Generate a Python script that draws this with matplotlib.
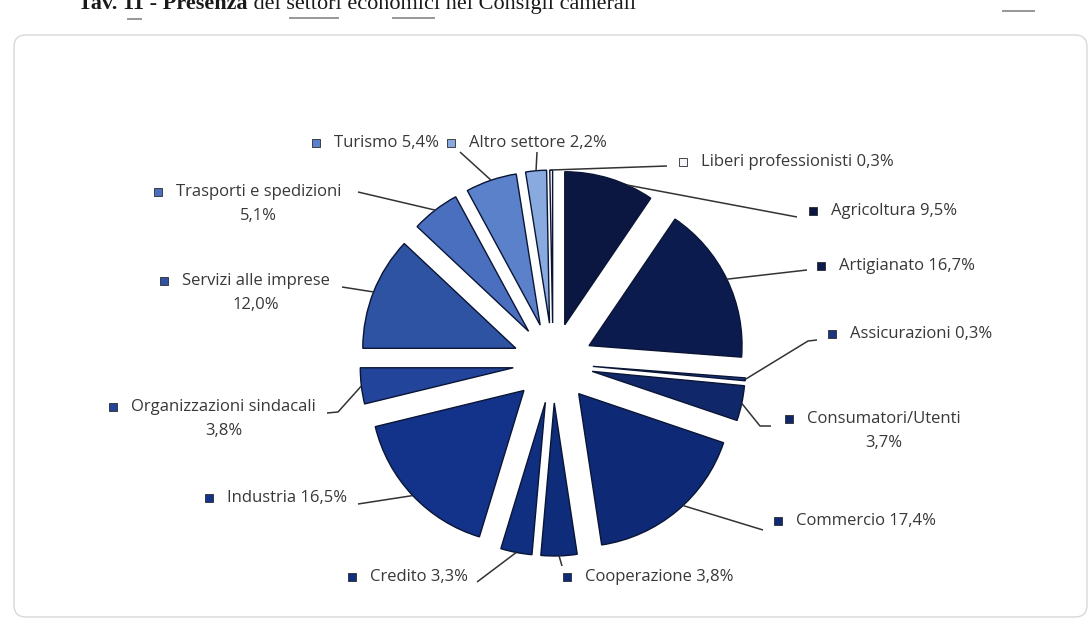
import matplotlib
matplotlib.use("Agg")
import matplotlib.pyplot as plt
from matplotlib.patches import FancyBboxPatch, Rectangle
import numpy as np

# ---- data -------------------------------------------------------------
sectors = ["Agricoltura", "Artigianato", "Assicurazioni", "Consumatori/Utenti",
           "Commercio", "Cooperazione", "Credito", "Industria",
           "Organizzazioni sindacali", "Servizi alle imprese",
           "Trasporti e spedizioni", "Turismo", "Altro settore",
           "Liberi professionisti"]
shares = [9.5, 16.7, 0.3, 3.7, 17.4, 3.8, 3.3, 16.5, 3.8, 12.0, 5.1, 5.4, 2.2, 0.3]

colors = ["#0b1741", "#0c1b4d", "#1b3580", "#10276a", "#0e2a77", "#0f2c7b",
          "#112f81", "#13338a", "#22449a", "#2e53a3", "#4a6fbf", "#5b81ca",
          "#88aade", "#f4f6fb"]

title_bold = "Tav. 11 - Presenza"
title_rest = " dei settori economici nei Consigli camerali"

# ---- layout (pixel coordinates, y measured from the top) ---------------
W, H = 1090, 624
CENTER = (553, 363)
RADIUS = 153
EXPLODE = 40

# legend square centre, leader start, optional elbow, anchor angle override
label_layout = {
    "Agricoltura":              dict(sq=(813, 211), start=(797, 217), elbow=None, ang=66),
    "Artigianato":              dict(sq=(821, 266), start=(807, 270), elbow=None, ang=None),
    "Assicurazioni":            dict(sq=(832, 334), start=(817, 340), elbow=(808, 341), ang=None),
    "Consumatori/Utenti":       dict(sq=(789, 419), start=(771, 426), elbow=(760, 426), ang=None),
    "Commercio":                dict(sq=(778, 521), start=(763, 530), elbow=None, ang=-47),
    "Cooperazione":             dict(sq=(567, 577), start=(562, 566), elbow=None, ang=None),
    "Credito":                  dict(sq=(352, 577), start=(477, 582), elbow=None, ang=None),
    "Industria":                dict(sq=(209, 498), start=(358, 504), elbow=None, ang=None),
    "Organizzazioni sindacali": dict(sq=(113, 407), start=(327, 413), elbow=(338, 412), ang=None),
    "Servizi alle imprese":     dict(sq=(164, 281), start=(342, 287), elbow=None, ang=None),
    "Trasporti e spedizioni":   dict(sq=(158, 192), start=(358, 192), elbow=None, ang=None),
    "Turismo":                  dict(sq=(316, 143), start=(460, 152), elbow=None, ang=None),
    "Altro settore":            dict(sq=(451, 143), start=(537, 152), elbow=None, ang=None),
    "Liberi professionisti":    dict(sq=(683, 162), start=(667, 166), elbow=None, ang=None),
}
two_line = {"Consumatori/Utenti", "Organizzazioni sindacali",
            "Servizi alle imprese", "Trasporti e spedizioni"}
TEXT_GAP = 18      # from square centre to the start of the text
LINE_STEP = 24     # vertical distance of the second label line


def Y(py):
    return H - py


def fmt(v):
    return f"{v:.1f}%".replace(".", ",")


fig = plt.figure(figsize=(W / 100, H / 100), dpi=100)
fig.patch.set_facecolor("white")
ax = fig.add_axes([0, 0, 1, 1])

wedges, _ = ax.pie(shares, startangle=90, counterclock=False,
                   explode=[EXPLODE] * len(shares), radius=RADIUS,
                   center=(CENTER[0], Y(CENTER[1])), colors=colors,
                   wedgeprops=dict(edgecolor="#0a1535", linewidth=1.0))
ax.set_xlim(0, W)
ax.set_ylim(0, H)
ax.set_aspect("auto")
ax.axis("off")

# chart frame
frame = FancyBboxPatch((14, Y(617)), 1073, 582,
                       boxstyle="round,pad=0,rounding_size=12",
                       facecolor="none", edgecolor="#d8d8d8", linewidth=1.0)
ax.add_patch(frame)

renderer = fig.canvas.get_renderer()
FONT = dict(family="Open Sans", fontsize=12, color="#383838")
line_col = "#333333"

for name, val, wdg, col in zip(sectors, shares, wedges, colors):
    lay = label_layout[name]
    sx, sy = lay["sq"]
    tx = sx + TEXT_GAP
    ax.add_patch(Rectangle((sx - 4, Y(sy) - 4), 8, 8, facecolor=col,
                           edgecolor="#2a2a2a", linewidth=0.6))
    if name in two_line:
        t = ax.text(tx, Y(sy), name, ha="left", va="center", **FONT)
        bb = t.get_window_extent(renderer=renderer)
        mid = (bb.x0 + bb.x1) / 2
        ax.text(mid, Y(sy) - LINE_STEP, fmt(val), ha="center", va="center", **FONT)
    else:
        ax.text(tx, Y(sy), f"{name} {fmt(val)}", ha="left",
                va="center", **FONT)

    # leader line to the outer arc of the slice
    ang = lay["ang"] if lay["ang"] is not None else (wdg.theta1 + wdg.theta2) / 2
    cx, cy = wdg.center
    ax_ = cx + wdg.r * np.cos(np.radians(ang))
    ay_ = cy + wdg.r * np.sin(np.radians(ang))
    pts = [lay["start"]]
    if lay["elbow"] is not None:
        pts.append(lay["elbow"])
    xs = [p[0] for p in pts] + [ax_]
    ys = [Y(p[1]) for p in pts] + [ay_]
    ax.plot(xs, ys, color=line_col, linewidth=1.1, solid_capstyle="butt")

# page heading, cut by the top edge of the page
tb = fig.text(78 / W, Y(9) / H, title_bold, ha="left", va="baseline",
              family="Liberation Serif", fontweight="bold", fontsize=16,
              color="#1a1a1a")
bb = tb.get_window_extent(renderer=renderer)
fig.text(bb.x1 / W, Y(9) / H, title_rest, ha="left", va="baseline",
         family="Liberation Serif", fontsize=16, color="#1a1a1a")

# rule fragments under the heading
for x0, x1, yy in [(128, 141, 19), (290, 338, 18), (393, 434, 18), (1003, 1034, 11)]:
    ax.plot([x0, x1], [Y(yy), Y(yy)], color="#6a6a6a", linewidth=1.4, alpha=0.7)

fig.savefig("out.png", dpi=100)
